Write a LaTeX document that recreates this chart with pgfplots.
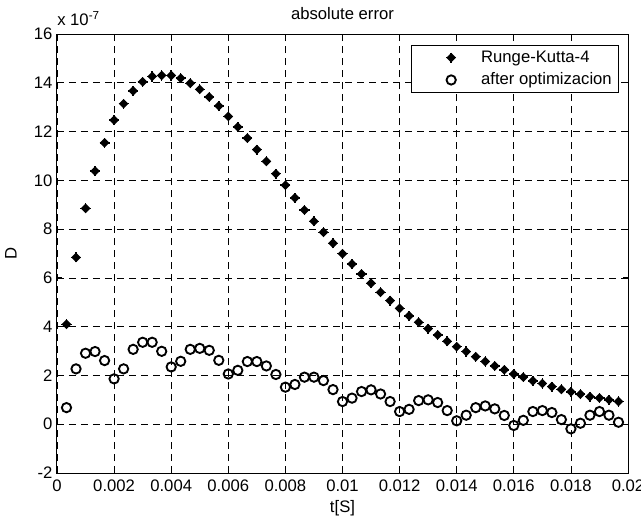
\documentclass[border=0pt]{standalone}
\usepackage{fontspec}
\setmainfont{Liberation Sans}
\usepackage{pgfplots}
\usepackage{pgfplotstable}
\pgfplotsset{compat=1.18}

% filled diamond with short cross arms (MATLAB-like marker)
\pgfdeclareplotmark{dplus}{%
  \pgfpathmoveto{\pgfqpoint{0pt}{0.75\pgfplotmarksize}}%
  \pgfpathlineto{\pgfqpoint{0.75\pgfplotmarksize}{0pt}}%
  \pgfpathlineto{\pgfqpoint{0pt}{-0.75\pgfplotmarksize}}%
  \pgfpathlineto{\pgfqpoint{-0.75\pgfplotmarksize}{0pt}}%
  \pgfpathclose
  \pgfusepathqfillstroke
  \pgfpathmoveto{\pgfqpoint{-\pgfplotmarksize}{0pt}}%
  \pgfpathlineto{\pgfqpoint{\pgfplotmarksize}{0pt}}%
  \pgfpathmoveto{\pgfqpoint{0pt}{-\pgfplotmarksize}}%
  \pgfpathlineto{\pgfqpoint{0pt}{\pgfplotmarksize}}%
  \pgfusepathqstroke
}
% wide legend cell with the marker placed well away from the text
\pgfplotsset{mlegend/.style={legend image code/.code={%
  \draw[##1, only marks] plot coordinates {(26.5pt,0pt)};
  \path[draw=none, fill=none] (0pt,-3pt) rectangle (47pt,3pt);}}}

% t [s], Runge-Kutta-4 error, error after optimization (x 1e-7)
\pgfplotstableread{
t        rk     opt
0.000333 4.10   0.68
0.000667 6.84   2.27
0.001    8.85   2.91
0.001333 10.38  2.98
0.001667 11.54  2.61
0.002    12.47  1.86
0.002333 13.14  2.27
0.002667 13.67  3.07
0.003    14.04  3.36
0.003333 14.26  3.36
0.003667 14.30  2.99
0.004    14.30  2.35
0.004333 14.19  2.58
0.004667 13.98  3.07
0.005    13.73  3.11
0.005333 13.42  3.03
0.005667 13.05  2.62
0.006    12.62  2.06
0.006333 12.19  2.21
0.006667 11.73  2.57
0.007    11.26  2.57
0.007333 10.78  2.39
0.007667 10.27  2.04
0.008    9.80   1.52
0.008333 9.28   1.63
0.008667 8.78   1.93
0.009    8.32   1.93
0.009333 7.87   1.79
0.009667 7.42   1.42
0.01     6.99   0.93
0.010333 6.57   1.07
0.010667 6.16   1.34
0.011    5.78   1.41
0.011333 5.41   1.24
0.011667 5.07   0.93
0.012    4.75   0.52
0.012333 4.44   0.61
0.012667 4.18   0.97
0.013    3.92   1.00
0.013333 3.66   0.89
0.013667 3.40   0.56
0.014    3.18   0.14
0.014333 2.98   0.37
0.014667 2.77   0.68
0.015    2.57   0.75
0.015333 2.39   0.63
0.015667 2.23   0.36
0.016    2.06   -0.05
0.016333 1.93   0.16
0.016667 1.78   0.52
0.017    1.67   0.56
0.017333 1.54   0.48
0.017667 1.43   0.19
0.018    1.33   -0.19
0.018333 1.23   0.04
0.018667 1.13   0.37
0.019    1.08   0.52
0.019333 1.00   0.37
0.019667 0.93   0.08
}\errdata

\begin{document}
\fontsize{12.5}{14.5}\selectfont
\begin{tikzpicture}
\begin{axis}[
  name=ax, scale only axis, width=428.25pt, height=329.25pt,
  xmin=0, xmax=0.02, ymin=-2, ymax=16,
  xtick={0,0.002,0.004,0.006,0.008,0.01,0.012,0.014,0.016,0.018,0.02},
  xticklabels={0,0.002,0.004,0.006,0.008,0.01,0.012,0.014,0.016,0.018,0.02},
  ytick={-2,0,2,4,6,8,10,12,14,16},
  yticklabels={-2,0,2,4,6,8,10,12,14,16},
  scaled x ticks=false,
  tick align=inside, major tick length=4pt,
  tick style={black, line width=0.6pt},
  axis line style={line width=0.75pt},
  grid=major, major grid style={black, line width=0.5pt, dash pattern=on 5pt off 4pt},
  tick label style={font=\fontsize{12.5}{14.5}\selectfont},
  xticklabel style={yshift=-0.5pt},
  yticklabel style={xshift=1pt},
  every axis title shift=0pt,
  title={absolute error},
  title style={at={(axis description cs:0.5,1.0456)}, anchor=center, font=\fontsize{12.5}{14.5}\selectfont},
  xlabel={t[S]},
  xlabel style={at={(axis description cs:0.5,-0.0797)}, anchor=center},
  ylabel={D},
  ylabel style={at={(axis description cs:-0.0806,0.5)}, anchor=center},
  legend cell align=left,
  legend style={at={(0.984,0.975)}, anchor=north east, draw=black, line width=0.6pt,
    font=\fontsize{12.5}{14.5}\selectfont, row sep=2pt, inner xsep=3pt, inner ysep=2pt,
    nodes={inner sep=2pt}},
]
\addplot[only marks, mark=dplus, mark size=3.8pt, black, line width=1.1pt, forget plot]
  table[x=t, y=rk] {\errdata};
\addplot[only marks, mark=o, mark size=3.5pt, black, line width=1.4pt, forget plot]
  table[x=t, y=opt] {\errdata};
\addlegendimage{mark=dplus, mark size=3.8pt, black, line width=1.1pt, mlegend}
\addlegendentry{Runge-Kutta-4}
\addlegendimage{mark=o, mark size=3.5pt, black, line width=1.4pt, mlegend}
\addlegendentry{after optimizacion}
\end{axis}
\node[anchor=base west, inner sep=0pt] at ([yshift=6.75pt]ax.north west) {x 10\textsuperscript{-7}};
\pgfresetboundingbox
\path ([shift={(-42.75pt,-34.5pt)}]ax.south west) rectangle ([shift={(9.75pt,25.5pt)}]ax.north east);
\end{tikzpicture}
\end{document}
